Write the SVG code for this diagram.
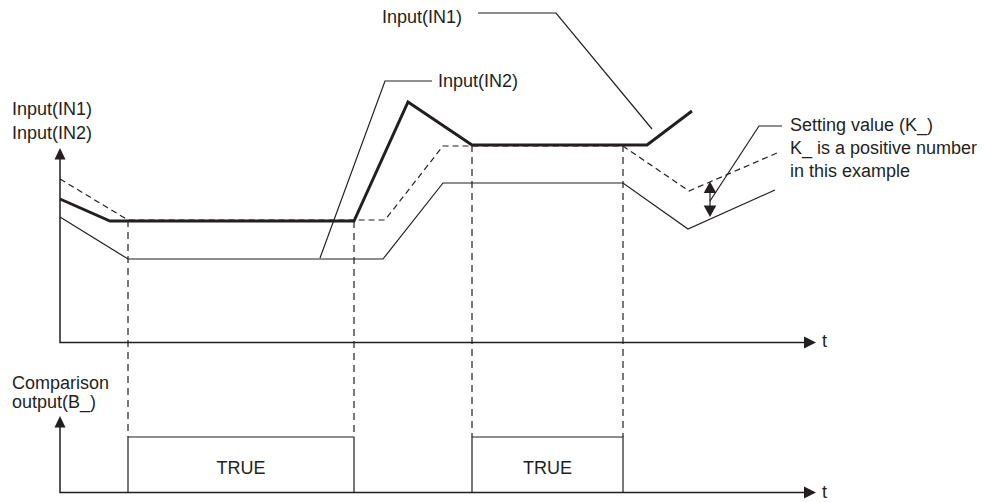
<svg xmlns="http://www.w3.org/2000/svg" width="985" height="503" viewBox="0 0 985 503">
<style>
text{font-family:"Liberation Sans",Arial,sans-serif;font-size:18px;fill:#231f20}
.ax{fill:none;stroke:#231f20;stroke-width:1.5}
.thin{fill:none;stroke:#231f20;stroke-width:1.2}
.thick{fill:none;stroke:#231f20;stroke-width:3;stroke-linejoin:miter}
.dash{fill:none;stroke:#231f20;stroke-width:1.2;stroke-dasharray:6 4}
.vd{fill:none;stroke:#231f20;stroke-width:1.2;stroke-dasharray:7 5}
.ah{fill:#231f20;stroke:none}
</style>
<rect width="985" height="503" fill="#fff"/>
<g id="axes">
<path class="ax" d="M60,158 V342.5 H805"/>
<path class="ah" d="M60,148 L54.5,159.5 H65.5 Z"/>
<path class="ah" d="M816,342.5 L804,336.5 V348.5 Z"/>
<path class="ax" d="M60,425 V492.5 H805"/>
<path class="ah" d="M60,416 L54.5,427.5 H65.5 Z"/>
<path class="ah" d="M816,492.5 L804,486.5 V498.5 Z"/>
<text x="822" y="347">t</text>
<text x="822" y="498">t</text>
<text x="12" y="115">Input(IN1)</text>
<text x="12" y="139">Input(IN2)</text>
<text x="12" y="389">Comparison</text>
<text x="12" y="408">output(B_)</text>
</g>
<g id="guides">
<path class="vd" d="M128,220 V437 M354,221 V437 M472,145 V437 M623,145 V437"/>
</g>
<g id="in2-dashed">
<path class="dash" d="M60,179 L128,220 H385 L443,146 H623 L689,191 L777,153"/>
</g>
<g id="thin-line">
<path class="thin" d="M60,217 L128,259 H383 L443,183 H623 L688,229 L775,190"/>
</g>
<g id="in1-thick">
<path class="thick" d="M60,199 L110,221 H354 L408,102 L472,145 H647 L692,111"/>
</g>
<g id="label-in1">
<text x="382" y="23">Input(IN1)</text>
<path class="thin" d="M478,13 H556 L652,129"/>
</g>
<g id="label-in2">
<text x="438" y="87">Input(IN2)</text>
<path class="thin" d="M432,81 H385 L320,258"/>
</g>
<g id="setting-value">
<path class="thin" d="M710,191 V207"/>
<path class="ah" d="M710,181.5 L703.7,193 H716.3 Z"/>
<path class="ah" d="M710,217 L703.7,205.5 H716.3 Z"/>
<path class="thin" d="M710,201 L759,126 H782"/>
<text x="790" y="131">Setting value (K_)</text>
<text x="790" y="154">K_ is a positive number</text>
<text x="790" y="177">in this example</text>
</g>
<g id="output">
<path class="thin" d="M128,492.5 V437 H354 V492.5"/>
<path class="thin" d="M472,492.5 V437 H623 V492.5"/>
<text x="241" y="474" text-anchor="middle">TRUE</text>
<text x="547.5" y="474" text-anchor="middle">TRUE</text>
</g>
</svg>
